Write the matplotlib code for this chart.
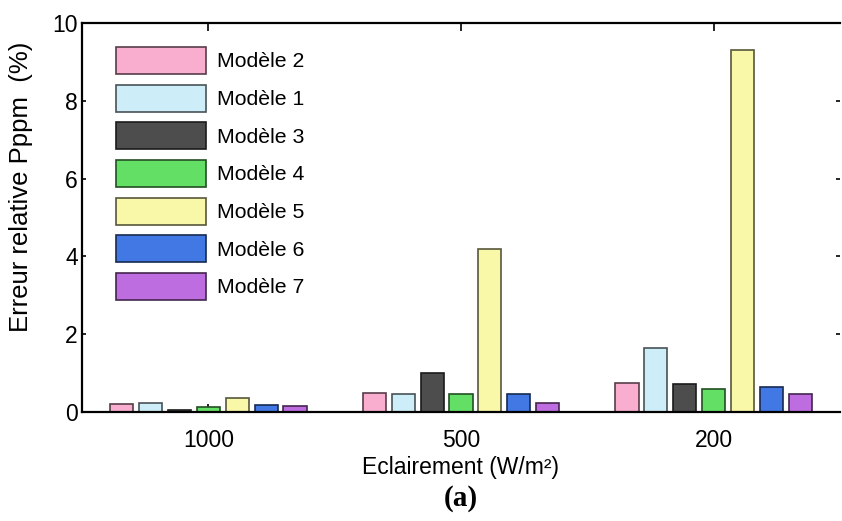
import numpy as np
import matplotlib.pyplot as plt
from matplotlib.patches import Patch
from matplotlib.colors import to_rgb

plt.rcParams['font.family'] = ['Liberation Sans', 'DejaVu Sans']

# irradiance groups and relative error of Pppm (%) for each model
groups = ['1000', '500', '200']
models = ['Modèle 2', 'Modèle 1', 'Modèle 3', 'Modèle 4', 'Modèle 5', 'Modèle 6', 'Modèle 7']
err_1000 = [0.20, 0.24, 0.04, 0.14, 0.35, 0.19, 0.15]
err_500 = [0.50, 0.45, 1.01, 0.45, 4.19, 0.45, 0.24]
err_200 = [0.75, 1.64, 0.71, 0.60, 9.31, 0.65, 0.45]

colors = ['#F9AECF', '#CDEEF8', '#4D4D4D', '#63DF65', '#F8F8A8', '#4178E4', '#BE6DE0']

values = np.array([err_1000, err_500, err_200])  # rows: groups, cols: models
n_models = len(models)
x = np.arange(1, len(groups) + 1)

group_w = min(0.8, n_models / (n_models + 1.5))
step = group_w / n_models
bar_w = step * 0.8


def edge_of(c):
    r, g, b = to_rgb(c)
    return (r * 0.35, g * 0.35, b * 0.35)


fig = plt.figure(figsize=(8.42, 5.21), dpi=100)
ax = fig.add_axes([82 / 842, 1 - 412 / 521, (840 - 82) / 842, (412 - 23) / 521])

for j in range(n_models):
    offs = (j - (n_models - 1) / 2) * step
    ax.bar(x + offs, values[:, j], width=bar_w, color=colors[j],
           edgecolor=edge_of(colors[j]), linewidth=1.2, zorder=3)

ax.set_xlim(0.5, 3.5)
ax.set_ylim(0, 10)
ax.set_xticks(x)
ax.set_xticklabels(groups)
ax.set_yticks(np.arange(0, 11, 2))

ax.spines['right'].set_visible(False)
for s in ['left', 'bottom', 'top']:
    ax.spines[s].set_linewidth(1.6)
    ax.spines[s].set_zorder(4)
ax.tick_params(axis='both', direction='in', length=3, width=1.2,
               top=True, right=True, labelsize=16.5)
ax.tick_params(axis='x', pad=12, length=6)
ax.tick_params(axis='y', pad=3)

ax.set_ylabel('Erreur relative Pppm  (%)', fontsize=18.5)
ax.yaxis.set_label_coords((33 - 82) / 758, (412 - 187) / 389)
ax.set_xlabel('Eclairement (W/m²)', fontsize=16.5)
ax.xaxis.set_label_coords(0.5, (412 - 456) / 389)

handles = [Patch(facecolor=c, edgecolor=edge_of(c), linewidth=1.2) for c in colors]
ax.legend(handles, models, loc='upper left',
          bbox_to_anchor=((116 - 82) / 758, (412 - 47) / 389),
          frameon=False, fontsize=15.3, handlelength=4.24, handleheight=1.58,
          handletextpad=0.5, labelspacing=0.5, borderpad=0, borderaxespad=0)

fig.text(461 / 842, 1 - 498 / 521, '(a)', ha='center', va='center',
         fontsize=21, fontweight='bold', family='Liberation Serif')

fig.savefig('out.png', dpi=100)
